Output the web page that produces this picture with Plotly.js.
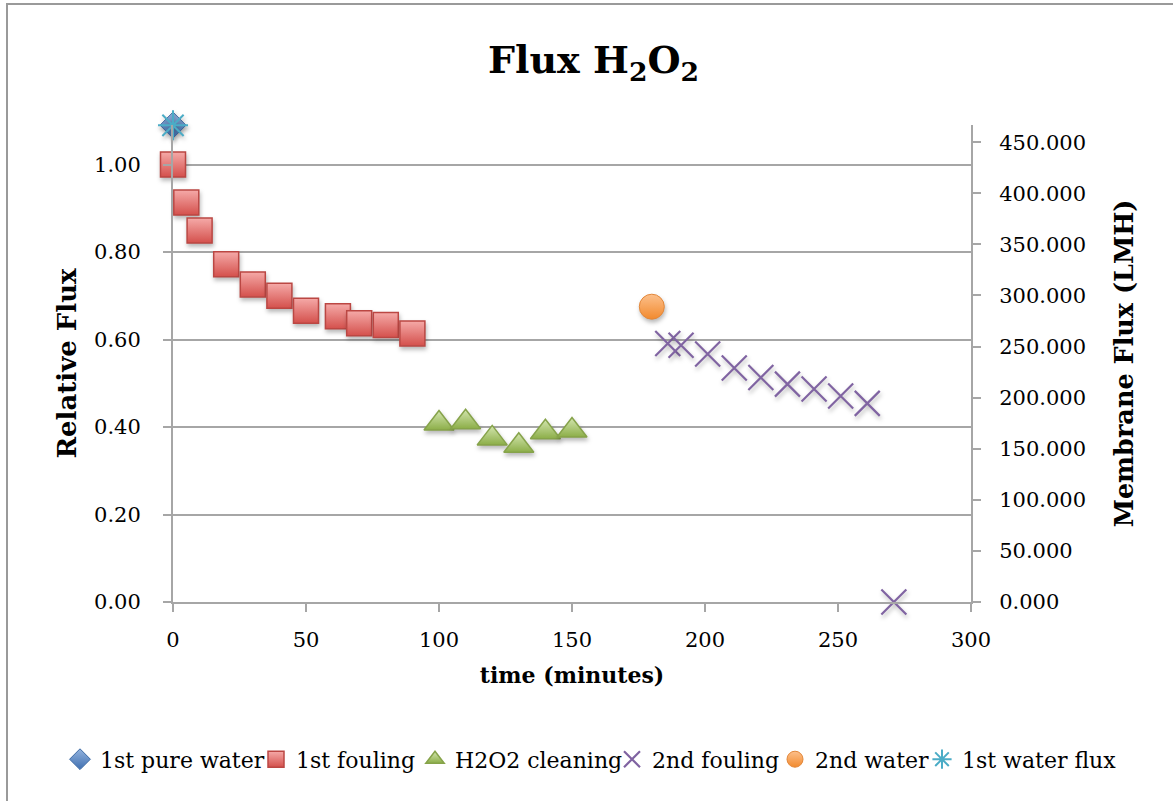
<!DOCTYPE html>
<html>
<head>
<meta charset="utf-8">
<script src="https://cdn.plot.ly/plotly-3.0.1.min.js"></script>
<style>
  html, body { margin: 0; padding: 0; background: #ffffff; overflow: hidden; }
  #wrap { position: relative; width: 1173px; height: 801px; }
  #chart { position: absolute; left: 0; top: 0; width: 1173px; height: 801px; }
  #frame { position: absolute; left: 6px; top: 3px; width: 1200px; height: 830px;
           border: 2px solid #9a9a9a; box-sizing: border-box; pointer-events: none; }
  /* soft drop shadow under the plotted markers */
  #chart .cartesianlayer .scatterlayer .points path.point {
    filter: drop-shadow(1px 3px 2px rgba(0, 0, 0, 0.28));
  }
</style>
</head>
<body>
<div id="wrap">
  <div id="chart"></div>
  <div id="frame"></div>
</div>
<script>
// Time axis (minutes) and relative / membrane flux readings per phase
const pureWaterTime = [0];
const pureWaterRel = [1.09];

const fouling1Time = [0, 5, 10, 20, 30, 40, 50, 62, 70, 80, 90];
const fouling1Rel = [1.00, 0.913, 0.849, 0.772, 0.726, 0.700, 0.666, 0.653, 0.637, 0.633, 0.614];

const cleaningTime = [100, 110, 120, 130, 140, 150];
const cleaningRel = [0.408, 0.411, 0.374, 0.357, 0.388, 0.392];

const fouling2Time = [186, 191, 201, 211, 221, 231, 241, 251, 261, 271];
const fouling2Rel = [0.591, 0.587, 0.567, 0.535, 0.513, 0.498, 0.487, 0.471, 0.454, 0.0];

const water2Time = [180];
const water2Rel = [0.675];

const waterFluxTime = [0];
const waterFluxLMH = [466.5];

const xTicks = [0, 50, 100, 150, 200, 250, 300];
const relTicks = [0, 0.2, 0.4, 0.6, 0.8, 1.0];
const lmhTicks = [0, 50, 100, 150, 200, 250, 300, 350, 400, 450];

const FONT = 'DejaVu Serif, Liberation Serif, serif';
const GRID = '#a6a6a6';

const traces = [
  {
    name: '1st pure water', x: pureWaterTime, y: pureWaterRel, legend: 'legend',
    type: 'scatter', mode: 'markers', cliponaxis: false,
    marker: { symbol: 'diamond', size: 20, color: '#93b3de',
              gradient: { type: 'vertical', color: '#3f6fb0' },
              line: { color: '#3d6aa4', width: 1 } }
  },
  {
    name: '1st fouling', x: fouling1Time, y: fouling1Rel, legend: 'legend2',
    type: 'scatter', mode: 'markers', cliponaxis: false,
    marker: { symbol: 'square', size: 25, color: '#f5aaa8',
              gradient: { type: 'vertical', color: '#d4504c' },
              line: { color: '#bb4743', width: 1.5 } }
  },
  {
    name: 'H2O2 cleaning', x: cleaningTime, y: cleaningRel, legend: 'legend3',
    type: 'scatter', mode: 'markers', cliponaxis: false,
    marker: { symbol: 'triangle-up', size: 26, color: '#d4e6b0',
              gradient: { type: 'vertical', color: '#8cae48' },
              line: { color: '#86a34a', width: 1.5 } }
  },
  {
    name: '2nd fouling', x: fouling2Time, y: fouling2Rel, legend: 'legend4',
    type: 'scatter', mode: 'markers', cliponaxis: false,
    marker: { symbol: 'x-thin-open', size: 25, color: '#8064a2',
              line: { color: '#8064a2', width: 2.2 } }
  },
  {
    name: '2nd water', x: water2Time, y: water2Rel, legend: 'legend5',
    type: 'scatter', mode: 'markers', cliponaxis: false,
    marker: { symbol: 'circle', size: 25, color: '#fcc08c',
              gradient: { type: 'vertical', color: '#f28a2e' },
              line: { color: '#e2873a', width: 1 } }
  },
  {
    name: '1st water flux', x: waterFluxTime, y: waterFluxLMH, yaxis: 'y2', legend: 'legend6',
    type: 'scatter', mode: 'markers', cliponaxis: false,
    marker: { symbol: 'asterisk-open', size: 25, color: '#4bacc6',
              line: { color: '#4bacc6', width: 2 } }
  }
];

// one legend box per series, laid out in a single row under the plot
const legendLeft = [60, 256, 415, 612, 775, 922];
function legendBox(px) {
  return {
    orientation: 'h', x: (px - 173) / 798, xanchor: 'left', y: -0.33, yanchor: 'middle',
    font: { family: FONT, size: 22, color: '#000000' },
    itemwidth: 30, bgcolor: 'rgba(0,0,0,0)', borderwidth: 0
  };
}

const layout = {
  width: 1173, height: 801,
  paper_bgcolor: 'rgba(0,0,0,0)', plot_bgcolor: 'rgba(0,0,0,0)',
  margin: { l: 173, r: 202, t: 125, b: 199, pad: 0 },
  font: { family: FONT, color: '#000000', size: 21 },
  title: {
    text: '<b>Flux H<sub>2</sub>O<sub>2</sub></b>',
    font: { family: FONT, size: 38, color: '#000000' },
    xref: 'container', x: 0.506, xanchor: 'center',
    yref: 'container', y: 0.925, yanchor: 'middle'
  },
  xaxis: {
    range: [0, 300], tickvals: xTicks, ticktext: xTicks.map(String),
    showgrid: false, zeroline: false,
    showline: true, linecolor: GRID, linewidth: 2,
    ticks: 'outside', ticklen: 8, tickwidth: 2, tickcolor: GRID,
    tickfont: { family: FONT, size: 21 }, ticklabelstandoff: 10,
    title: { text: '<b>time (minutes)</b>', font: { family: FONT, size: 22 }, standoff: 16 },
    fixedrange: true
  },
  yaxis: {
    range: [0, 1.0903], tickvals: relTicks, ticktext: relTicks.map(v => v.toFixed(2)),
    showgrid: true, gridcolor: GRID, gridwidth: 2, zeroline: false,
    showline: true, linecolor: GRID, linewidth: 2,
    ticks: 'outside', ticklen: 8, tickwidth: 2, tickcolor: GRID,
    tickfont: { family: FONT, size: 21 }, ticklabelstandoff: 18,
    title: { text: '<b>Relative Flux</b>', font: { family: FONT, size: 26 }, standoff: 10 },
    fixedrange: true
  },
  yaxis2: {
    overlaying: 'y', side: 'right',
    range: [0, 466.8], tickvals: lmhTicks, ticktext: lmhTicks.map(v => v.toFixed(3)),
    showgrid: false, zeroline: false,
    showline: true, linecolor: GRID, linewidth: 2,
    ticks: 'outside', ticklen: 8, tickwidth: 2, tickcolor: GRID,
    tickfont: { family: FONT, size: 21 }, ticklabelstandoff: 14,
    title: { text: '<b>Membrane Flux (LMH)</b>', font: { family: FONT, size: 25.5 }, standoff: 30 },
    fixedrange: true
  },
  showlegend: true,
  legend: legendBox(legendLeft[0]),
  legend2: legendBox(legendLeft[1]),
  legend3: legendBox(legendLeft[2]),
  legend4: legendBox(legendLeft[3]),
  legend5: legendBox(legendLeft[4]),
  legend6: legendBox(legendLeft[5])
};

Plotly.newPlot('chart', traces, layout, { displayModeBar: false, staticPlot: true });
</script>
</body>
</html>
